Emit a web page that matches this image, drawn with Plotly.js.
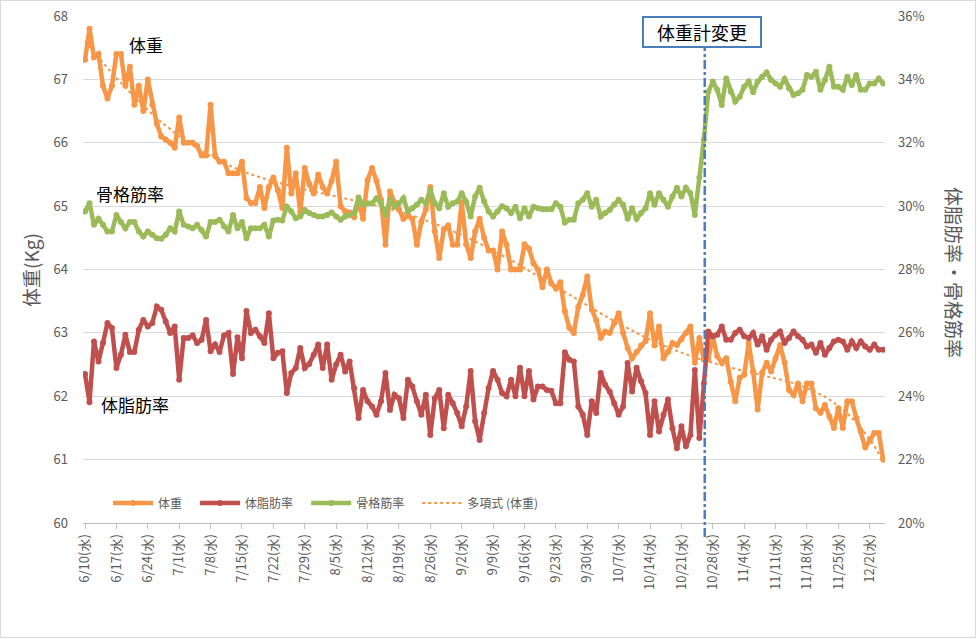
<!DOCTYPE html>
<html><head><meta charset="utf-8">
<script src="https://cdn.plot.ly/plotly-3.0.1.min.js"></script>
<style>body{margin:0;background:#fff}#chart{width:977px;height:639px}</style>
</head><body><div id="chart"></div><script>
// ---- data (daily, starting 2015-06-10) ----
const startDate = '2015-06-10';
const weight = [67.31,67.8,67.35,67.4,66.9,66.7,66.9,67.4,67.4,66.9,
67.2,66.6,66.9,66.5,67.0,66.6,66.3,66.1,66.05,66.0,
65.92,66.4,66.0,66.0,66.0,65.95,65.8,65.8,66.6,65.8,
65.7,65.7,65.52,65.52,65.52,65.7,65.13,65.05,65.05,65.3,
64.97,65.3,65.45,65.25,64.97,65.92,65.2,65.52,64.9,65.6,
65.35,65.2,65.5,65.3,65.2,65.4,65.7,65.0,64.92,64.9,
64.83,65.06,64.8,65.41,65.6,65.4,65.1,64.39,65.23,65.06,
64.95,64.8,64.85,64.8,64.39,64.75,64.95,65.3,64.6,64.18,
64.63,64.7,64.39,64.39,65.06,64.4,64.18,64.6,64.8,64.5,
64.3,64.3,64.0,64.6,64.39,64.0,64.0,64.0,64.4,64.33,
64.1,64.0,63.72,64.0,63.78,63.7,63.8,63.34,63.08,63.0,
63.41,63.6,63.89,63.37,63.2,62.92,63.02,63.0,63.15,63.31,
63.0,62.76,62.6,62.7,62.8,62.87,63.31,62.8,63.1,62.6,
62.7,62.84,62.81,62.9,63.0,63.1,62.53,62.92,62.58,62.58,
62.94,62.63,62.53,62.6,62.23,61.92,62.29,62.34,62.84,62.39,
61.79,62.37,62.53,62.39,62.6,62.81,62.53,62.1,62.02,62.2,
61.92,62.2,62.2,61.81,61.74,61.86,61.68,61.5,61.81,61.5,
61.92,61.92,61.66,61.45,61.19,61.3,61.42,61.42,61.0];
const fatRate = [24.7,23.81,25.73,25.1,25.68,26.31,26.15,24.89,25.31,25.94,
25.4,25.4,26.1,26.41,26.2,26.31,26.83,26.73,26.36,26.0,
26.2,24.52,25.84,25.84,25.92,25.68,25.78,26.41,25.42,25.63,
25.4,25.92,26.0,24.7,25.86,25.2,26.69,26.0,26.1,25.89,
25.68,26.62,25.2,25.37,25.42,24.1,24.73,24.89,25.52,24.89,
25.02,25.31,25.63,24.89,25.63,24.52,25.0,25.31,24.78,25.1,
24.26,23.31,24.2,23.84,23.68,23.42,23.84,24.73,23.57,24.05,
23.94,23.31,24.52,24.31,23.84,23.42,24.05,22.78,23.94,24.2,
22.99,24.05,23.78,23.47,23.05,23.68,24.8,23.21,22.62,23.47,
24.26,24.8,24.52,24.1,24.0,24.52,24.0,24.9,24.0,24.8,
23.9,24.31,24.31,24.2,24.17,23.78,23.78,25.39,25.15,25.1,
23.68,23.42,22.78,23.84,23.47,24.73,24.36,24.15,23.78,23.42,
23.68,25.05,24.15,24.9,24.47,24.1,22.78,23.84,22.89,23.42,
23.9,22.99,22.36,23.05,22.42,22.78,24.83,22.68,24.4,26.04,
25.89,25.94,26.2,25.78,25.78,26.0,26.1,25.89,25.84,26.0,
25.63,25.89,25.47,25.78,25.94,26.04,25.68,25.84,26.04,25.89,
25.78,25.57,25.63,25.37,25.68,25.31,25.52,25.73,25.78,25.73,
25.47,25.73,25.52,25.73,25.57,25.47,25.63,25.47,25.47];
const muscleRate = [29.83,30.09,29.41,29.6,29.41,29.2,29.2,29.72,29.5,29.3,
29.5,29.5,29.2,29.04,29.2,29.1,28.99,28.97,29.1,29.3,
29.2,29.83,29.41,29.36,29.3,29.41,29.25,29.04,29.5,29.5,
29.57,29.36,29.2,29.72,29.3,29.5,28.99,29.3,29.3,29.3,
29.41,29.04,29.55,29.57,29.55,29.98,29.83,29.62,29.67,29.88,
29.78,29.72,29.67,29.67,29.72,29.8,29.67,29.57,29.67,29.72,
29.78,30.27,30.04,30.09,30.09,30.25,30.09,29.72,30.2,29.98,
30.09,30.25,29.83,29.93,30.04,30.2,30.09,30.51,30.09,29.93,
30.41,29.98,30.09,30.14,30.41,30.14,29.67,30.3,30.58,30.15,
29.83,29.67,29.83,30.0,29.93,29.78,29.98,29.62,29.93,29.67,
29.98,29.93,29.9,29.9,29.9,30.09,29.98,29.48,29.57,29.57,
30.09,30.2,30.41,29.98,30.2,29.67,29.78,29.88,30.04,30.2,
30.04,29.6,29.93,29.6,29.78,29.93,30.41,30.04,30.41,30.2,
29.98,30.3,30.58,30.3,30.58,30.41,29.72,30.9,32.1,33.61,
33.93,33.67,33.19,34.03,33.61,33.3,33.45,33.77,33.93,33.59,
33.93,34.08,34.22,33.98,33.87,33.77,34.01,33.72,33.51,33.56,
33.67,34.14,34.08,34.24,33.67,33.98,34.4,33.77,33.77,33.67,
34.08,33.82,34.14,33.67,33.67,33.87,33.87,34.03,33.87];
const tickLabels = ['6/10(水)','6/17(水)','6/24(水)','7/1(水)','7/8(水)','7/15(水)','7/22(水)','7/29(水)',
'8/5(水)','8/12(水)','8/19(水)','8/26(水)','9/2(水)','9/9(水)','9/16(水)','9/23(水)','9/30(水)',
'10/7(水)','10/14(水)','10/21(水)','10/28(水)','11/4(水)','11/11(水)','11/18(水)','11/25(水)','12/2(水)'];
const seriesNames = ['体重', '体脂肪率', '骨格筋率', '多項式 (体重)'];
const changeDayOffset = 138.2;   // 体重計変更 marker position (days after start)
const trendOrder = 6;

// ---- helpers ----
const DAY = 86400000;
const t0 = Date.parse(startDate + 'T00:00:00Z');
const fmt = ms => new Date(ms).toISOString().replace('T',' ').slice(0,19);
const dates = weight.map((_, i) => fmt(t0 + i * DAY));
const tickVals = tickLabels.map((_, i) => fmt(t0 + i * 7 * DAY));
const PAD = '\u00a0\u00a0\u00a0';   // extra spacing between legend entries

// polynomial least-squares trendline of weight (like Excel's 多項式 trendline)
function polyFit(ys, order) {
  const n = ys.length, c = (n - 1) / 2;
  const ts = ys.map((_, i) => (i - c) / c);
  const m = order + 1;
  const A = Array.from({length: m}, () => new Array(m + 1).fill(0));
  for (let i = 0; i < n; i++) {
    const p = [];
    for (let k = 0; k <= 2 * order; k++) p.push(Math.pow(ts[i], k));
    for (let r = 0; r < m; r++) {
      for (let q = 0; q < m; q++) A[r][q] += p[r + q];
      A[r][m] += p[r] * ys[i];
    }
  }
  for (let col = 0; col < m; col++) {
    let piv = col;
    for (let r = col + 1; r < m; r++) if (Math.abs(A[r][col]) > Math.abs(A[piv][col])) piv = r;
    [A[col], A[piv]] = [A[piv], A[col]];
    for (let r = 0; r < m; r++) {
      if (r === col) continue;
      const f = A[r][col] / A[col][col];
      for (let q = col; q <= m; q++) A[r][q] -= f * A[col][q];
    }
  }
  const coef = A.map((row, r) => row[m] / row[r]);
  return ts.map(t => coef.reduce((s, a, k) => s + a * Math.pow(t, k), 0));
}
const trend = polyFit(weight, trendOrder);

// ---- geometry (pixels of the 977x639 picture) ----
const L = 83, R = 885, T = 16, B = 523;
const px = x => (x - L) / (R - L);
const py = y => (B - y) / (B - T);

const FONT = '"Noto Sans CJK JP", "Noto Sans", sans-serif';
const GRAY = '#595959';

const traces = [
  {x: dates, y: weight, name: seriesNames[0] + PAD, type: 'scatter', mode: 'lines+markers',
   line: {color: '#f79646', width: 4.5}, marker: {color: '#f79646', size: 6}, yaxis: 'y'},
  {x: dates, y: fatRate, name: seriesNames[1] + PAD, type: 'scatter', mode: 'lines+markers',
   line: {color: '#c0504d', width: 4.5}, marker: {color: '#c0504d', size: 6}, yaxis: 'y2'},
  {x: dates, y: muscleRate, name: seriesNames[2] + PAD, type: 'scatter', mode: 'lines+markers',
   line: {color: '#9bbb59', width: 4.5}, marker: {color: '#9bbb59', size: 6}, yaxis: 'y2'},
  {x: dates, y: trend, name: seriesNames[3], type: 'scatter', mode: 'lines',
   line: {color: '#f79646', width: 2, dash: 'dot'}, yaxis: 'y'}
];

const changeX = fmt(t0 + changeDayOffset * DAY);

function label(text, x, y, size, color, angle) {
  return {text: text, xref: 'paper', yref: 'paper', x: px(x), y: py(y), showarrow: false,
          xanchor: 'center', yanchor: 'middle', textangle: angle || 0,
          font: {size: size, color: color, family: FONT}};
}

const layout = {
  width: 977, height: 639,
  margin: {l: L, r: 977 - R, t: T, b: 639 - B},
  paper_bgcolor: '#ffffff', plot_bgcolor: '#ffffff',
  font: {family: FONT, color: GRAY, size: 13},
  showlegend: true,
  legend: {orientation: 'h', x: px(108), y: py(503), xanchor: 'left', yanchor: 'middle',
           font: {size: 12, color: GRAY, family: FONT}, bgcolor: 'rgba(0,0,0,0)', itemwidth: 40},
  xaxis: {type: 'date', range: [fmt(t0 - 0.45 * DAY), fmt(t0 + 178.4 * DAY)],
          tickvals: tickVals, ticktext: tickLabels, tickangle: -90,
          ticks: 'outside', ticklen: 5, tickcolor: '#bfbfbf',
          showline: true, linecolor: '#bfbfbf', linewidth: 1, showgrid: false, zeroline: false,
          tickfont: {size: 13, color: GRAY, family: FONT}},
  yaxis: {range: [60, 68], dtick: 1, showgrid: true, gridcolor: '#d9d9d9', gridwidth: 1,
          zeroline: false, showline: false, ticks: '', ticklabelstandoff: 14,
          tickfont: {size: 13, color: GRAY, family: FONT}},
  yaxis2: {range: [20, 36], dtick: 2, ticksuffix: '%', overlaying: 'y', side: 'right',
           showgrid: false, zeroline: false, showline: false, ticks: '', ticklabelstandoff: 12,
           tickfont: {size: 13, color: GRAY, family: FONT}},
  shapes: [
    {type: 'rect', xref: 'paper', yref: 'paper', x0: px(0.5), x1: px(975.5), y0: py(637.5), y1: py(0.5),
     line: {color: '#d9d9d9', width: 1}, fillcolor: 'rgba(0,0,0,0)', layer: 'below'},
    {type: 'line', xref: 'x', yref: 'paper', x0: changeX, x1: changeX, y0: py(537), y1: py(48),
     line: {color: '#4a7ebb', width: 2.5, dash: 'dashdot'}}
  ],
  annotations: [
    label('体重(Kg)', 30, 270, 19, GRAY, -90),
    label('体脂肪率・骨格筋率', 955, 272, 19, GRAY, 90),
    label('体重', 146, 45, 17, '#000'),
    label('骨格筋率', 130, 193, 17, '#000'),
    label('体脂肪率', 135, 404, 17, '#000'),
    Object.assign(label('体重計変更', 702, 32, 18, '#000'),
      {width: 110, height: 22, bordercolor: '#4a7ebb', borderwidth: 2, borderpad: 3, bgcolor: '#ffffff'})
  ]
};

Plotly.newPlot('chart', traces, layout, {displayModeBar: false, staticPlot: true});
</script></body></html>
